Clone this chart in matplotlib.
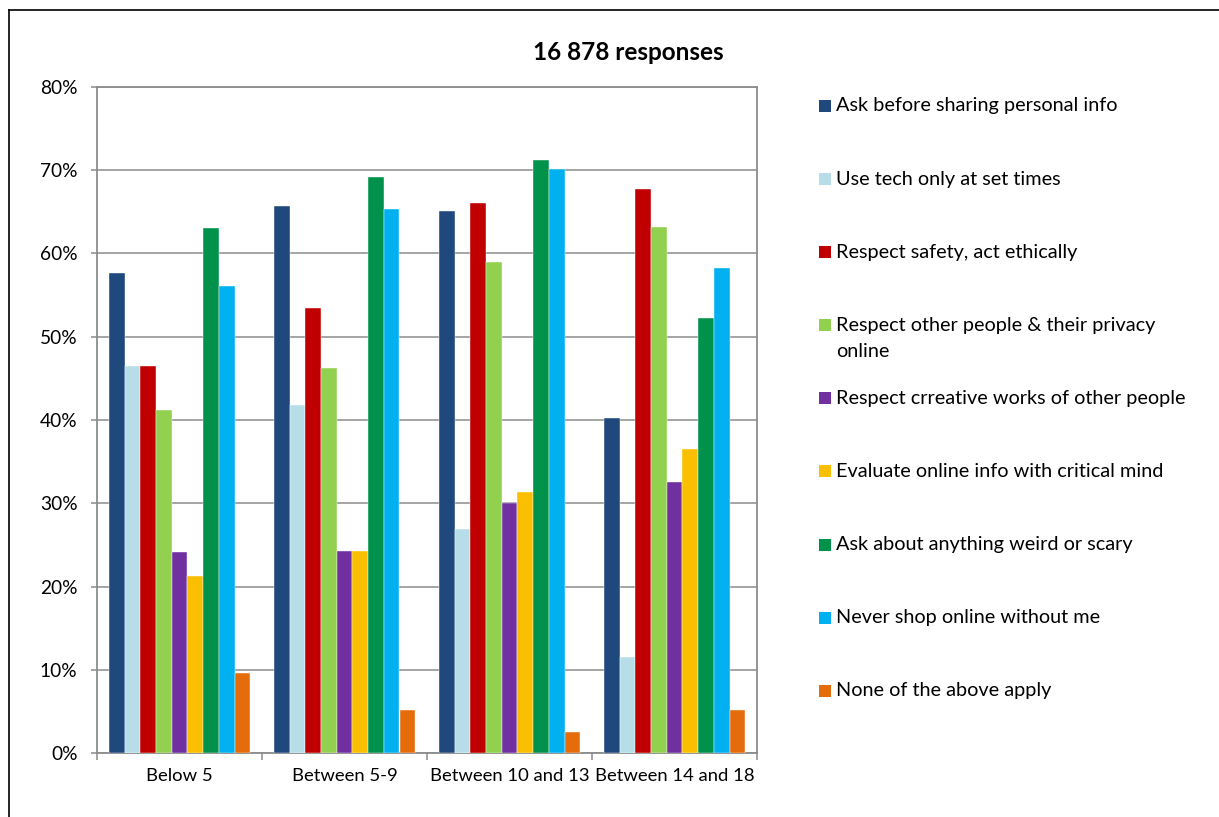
import matplotlib
matplotlib.use("Agg")
import matplotlib.pyplot as plt
from matplotlib.patches import Rectangle
from matplotlib.lines import Line2D
from matplotlib.ticker import PercentFormatter, FixedLocator
import numpy as np

plt.rcParams['font.family'] = ['Lato', 'DejaVu Sans']

# Age groups along the x axis
age_groups = ["Below 5", "Between 5-9", "Between 10 and 13", "Between 14 and 18"]

# Rules parents set, in legend order
rules = [
    "Ask before sharing personal info",
    "Use tech only at set times",
    "Respect safety, act ethically",
    "Respect other people & their privacy\nonline",
    "Respect crreative works of other people",
    "Evaluate online info with critical mind",
    "Ask about anything weird or scary",
    "Never shop online without me",
    "None of the above apply",
]

# Share of responses (%) per rule, one list per rule across the age groups
ask_before_sharing = [57.6, 65.7, 65.1, 40.2]
tech_set_times = [46.5, 41.8, 26.9, 11.5]
safety_ethics = [46.5, 53.4, 66.1, 67.7]
respect_privacy = [41.2, 46.3, 59.0, 63.2]
creative_works = [24.2, 24.3, 30.0, 32.6]
critical_mind = [21.3, 24.3, 31.3, 36.5]
weird_or_scary = [63.1, 69.2, 71.2, 52.2]
no_shopping = [56.1, 65.3, 70.1, 58.3]
none_apply = [9.6, 5.2, 2.5, 5.2]

series = [ask_before_sharing, tech_set_times, safety_ethics, respect_privacy,
          creative_works, critical_mind, weird_or_scary, no_shopping, none_apply]

colors = ["#1F497D", "#B7DDE8", "#C00000", "#92D050", "#7030A0",
          "#F9BF00", "#00924A", "#00B0F0", "#E46C0A"]

W, H = 1219, 817
fig = plt.figure(figsize=(W / 100, H / 100), dpi=100)

# outer chart frame (runs off the right and bottom edges)
fig.add_artist(Line2D([9 / W, 9 / W], [0, 1 - 10 / H], color="black", lw=1.2,
                      transform=fig.transFigure))
fig.add_artist(Line2D([9 / W, 1], [1 - 10 / H, 1 - 10 / H], color="black", lw=1.2,
                      transform=fig.transFigure))

ax = fig.add_axes([97 / W, (H - 753) / H, 660 / W, 666 / H])

n = len(series)
bar_w = 1 / (n + 1.5)
x = np.arange(len(age_groups))
for i, (vals, c) in enumerate(zip(series, colors)):
    offs = (i - (n - 1) / 2) * bar_w
    ax.bar(x + offs, vals, width=bar_w, color=c, edgecolor="white",
           linewidth=0.3, zorder=3)

ax.set_xlim(-0.5, len(age_groups) - 0.5)
ax.set_ylim(0, 80)

grid_c = "#8C8C8C"
ax.yaxis.set_major_locator(FixedLocator(np.arange(0, 81, 10)))
ax.yaxis.set_major_formatter(PercentFormatter(decimals=0))
ax.grid(axis="y", color=grid_c, lw=1.1, zorder=0)
for s in ax.spines.values():
    s.set_color(grid_c)
    s.set_linewidth(1.3)

ax.tick_params(axis="y", direction="out", length=4.5, width=1.1, color=grid_c,
               pad=9.5, labelsize=13.8)

ax.xaxis.set_major_locator(FixedLocator(np.arange(-0.5, len(age_groups), 1.0)))
ax.xaxis.set_major_formatter(plt.NullFormatter())
ax.xaxis.set_minor_locator(FixedLocator(x))
ax.set_xticks(x, age_groups, minor=True)
ax.tick_params(axis="x", which="major", direction="out", length=5, width=1.1,
               color=grid_c)
ax.tick_params(axis="x", which="minor", length=0, pad=11, labelsize=13.3)

fig.text(628 / W, 1 - 53 / H, "16 878 responses", ha="center", va="center",
         fontsize=17.5, fontweight="bold")

# legend drawn as a column of swatches and labels
for i, (lab, c) in enumerate(zip(rules, colors)):
    yc = 106 + i * 73.1
    fig.add_artist(Rectangle((819 / W, 1 - (yc + 6) / H), 12 / W, 12 / H,
                             facecolor=c, edgecolor="none",
                             transform=fig.transFigure))
    for j, line in enumerate(lab.split("\n")):
        fig.text(836 / W, 1 - (yc + j * 26) / H, line, ha="left",
                 va="center", fontsize=14.3)

fig.savefig("out.png", dpi=100, facecolor="white")
